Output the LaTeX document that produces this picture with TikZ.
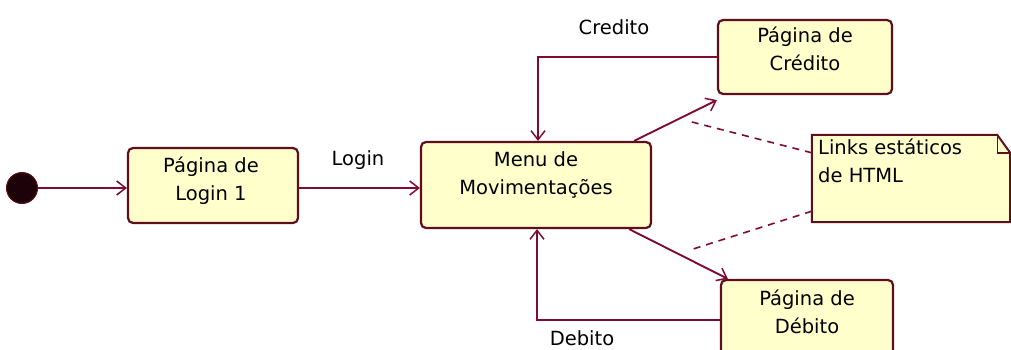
\documentclass[tikz,border=0pt]{standalone}
\usepackage{fontspec}
\setmainfont{DejaVu Sans}
\usetikzlibrary{arrows.meta}
\definecolor{umlline}{RGB}{125,12,48}
\definecolor{umledge}{RGB}{95,14,30}
\definecolor{umlfill}{RGB}{255,255,204}
\definecolor{initfill}{RGB}{30,2,10}
\tikzset{
  statebox/.style={draw=umledge, fill=umlfill, line width=2.2pt, rounded corners=5pt, inner sep=0pt},
  stxt/.style={align=center, font=\fontsize{19.5}{28}\selectfont, inner sep=0pt},
  lbl/.style={font=\fontsize{19.5}{28}\selectfont, inner sep=0pt},
  trans/.style={draw=umlline, line width=1.9pt, -{Straight Barb[length=9pt,width=14pt,line width=1.5pt]}},
  anchorline/.style={draw=umlline, line width=1.6pt, dash pattern=on 7pt off 6pt},
}
\begin{document}
\begin{tikzpicture}[x=1pt,y=-1pt]
\useasboundingbox (0,0) rectangle (1011,350);

% initial pseudo-state
\node[circle, fill=initfill, draw=umledge, line width=1pt, minimum size=31pt, inner sep=0pt] (init) at (22,188) {};

% states
\node[statebox, minimum width=170pt, minimum height=75pt] (login) at (213,185.5) {};
\node[stxt] (logint) at (211,181) {Página de\\Login 1};

\node[statebox, minimum width=230pt, minimum height=86pt] (menu) at (536,185) {};
\node[stxt] (menut) at (536,175) {Menu de\\Movimentações};

\node[statebox, minimum width=174pt, minimum height=74pt] (cred) at (805,57) {};
\node[stxt] (credt) at (805,49) {Página de\\Crédito};

\node[statebox, minimum width=172pt, minimum height=80pt] (deb) at (807,320) {};
\node[stxt] (debt) at (807,312) {Página de\\Débito};

% note
\node[minimum width=198pt, minimum height=87pt, inner sep=0pt] (note) at (911,178.5) {};
\path[draw=umledge, fill=umlfill, line width=2pt]
  (note.north west) -- ([xshift=-13pt]note.north east) -- ([yshift=-18pt]note.north east)
  -- (note.south east) -- (note.south west) -- cycle;
\draw[umledge, line width=1.4pt] ([xshift=-13pt]note.north east) |- ([yshift=-18pt]note.north east);
\node[stxt, align=left, anchor=north west] (notet) at (818,139) {Links estáticos\\de HTML};

% transitions
\draw[trans] (init.east) -- (login.west |- init.east);
\draw[trans] (login.east |- 0,188) -- (menu.west |- 0,188);
\draw[trans] (cred.west) -| ([xshift=2pt]menu.north);
\draw[trans] (deb.west) -| ([xshift=1pt]menu.south);
\draw[trans] ([xshift=-18pt]menu.north east) -- ([yshift=-5pt]cred.south west);
\draw[trans] ([xshift=-23pt]menu.south east) -- ([xshift=8pt]deb.north west);

% transition labels
\node[lbl] (lblogin) at (358,160) {Login};
\node[lbl] (lbcred) at (614,27) {Credito};
\node[lbl] (lbdeb) at (582,338) {Debito};

% note anchors
\coordinate (ancup) at (688,121);
\coordinate (ancdown) at (690,250);
\draw[anchorline] ([yshift=-18pt]note.north west) -- (ancup);
\draw[anchorline] ([yshift=11pt]note.south west) -- (ancdown);
\end{tikzpicture}
\end{document}
